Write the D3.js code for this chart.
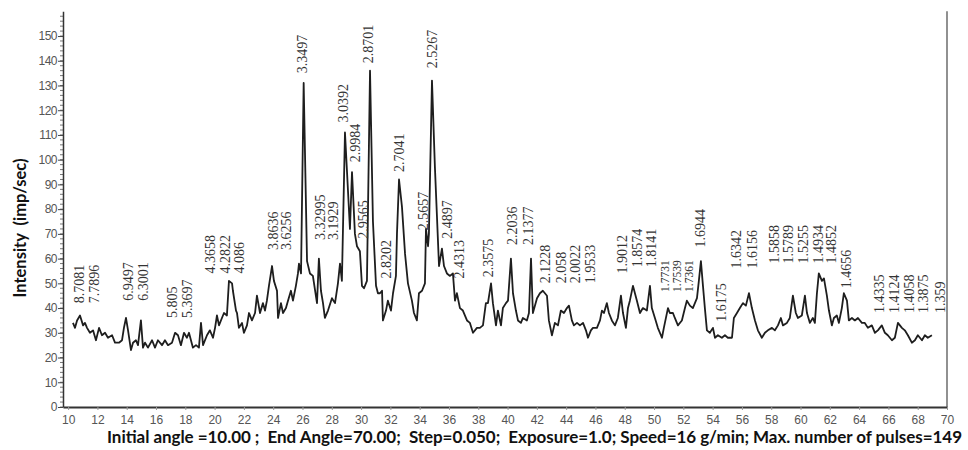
<!DOCTYPE html>
<html>
<head>
<meta charset="utf-8">
<script src="https://cdn.jsdelivr.net/npm/d3@7"></script>
<style>
    body { margin: 0; background: #fff; }
    #chart { width: 968px; height: 450px; }
</style>
</head>
<body>
<div id="chart"></div>
<script>
// 2-theta positions and counts
var angles = [
    10.33, 10.47, 10.61, 10.81, 11.02, 11.15, 11.29, 11.49, 11.70, 11.90,
    12.11, 12.31, 12.52, 12.72, 13.00, 13.20, 13.47, 13.68, 13.81, 13.95,
    14.09, 14.29, 14.43, 14.63, 14.77, 14.97, 15.11, 15.25, 15.45, 15.73,
    15.93, 16.13, 16.41, 16.61, 16.82, 17.09, 17.30, 17.50, 17.70, 17.91,
    18.11, 18.25, 18.52, 18.73, 18.93, 19.07, 19.21, 19.48, 19.68, 19.89,
    20.03, 20.16, 20.30, 20.50, 20.64, 20.84, 20.98, 21.19, 21.25, 21.46,
    21.53, 21.66, 21.87, 22.00, 22.21, 22.35, 22.55, 22.76, 22.89, 23.10,
    23.30, 23.44, 23.57, 23.71, 23.92, 24.05, 24.26, 24.33, 24.53, 24.67,
    24.87, 25.01, 25.21, 25.35, 25.55, 25.69, 25.76, 25.90, 26.08, 26.31,
    26.51, 26.71, 26.99, 27.12, 27.26, 27.40, 27.53, 27.74, 28.01, 28.22,
    28.42, 28.56, 28.69, 28.90, 29.04, 29.24, 29.38, 29.58, 29.72, 29.92,
    30.06, 30.20, 30.40, 30.61, 30.81, 31.02, 31.15, 31.29, 31.43, 31.49,
    31.70, 31.83, 32.04, 32.18, 32.38, 32.45, 32.59, 32.79, 33.00, 33.20,
    33.47, 33.61, 33.81, 33.95, 34.16, 34.36, 34.43, 34.57, 34.63, 34.84,
    35.04, 35.18, 35.32, 35.52, 35.66, 35.86, 36.07, 36.27, 36.41, 36.54,
    36.75, 36.95, 37.23, 37.43, 37.64, 37.91, 38.11, 38.32, 38.52, 38.66,
    38.87, 39.00, 39.21, 39.34, 39.55, 39.68, 39.89, 40.03, 40.23, 40.37,
    40.57, 40.71, 40.91, 41.05, 41.32, 41.46, 41.60, 41.73, 42.01, 42.21,
    42.41, 42.69, 42.82, 43.03, 43.23, 43.44, 43.64, 43.85, 44.05, 44.19,
    44.39, 44.53, 44.74, 44.94, 45.15, 45.35, 45.49, 45.69, 45.83, 46.10,
    46.31, 46.44, 46.58, 46.78, 46.92, 47.12, 47.33, 47.53, 47.74, 47.88,
    48.08, 48.22, 48.35, 48.56, 48.83, 49.04, 49.24, 49.51, 49.72, 49.85,
    50.06, 50.26, 50.54, 50.67, 50.95, 51.08, 51.29, 51.42, 51.63, 51.90,
    52.11, 52.24, 52.45, 52.65, 52.93, 53.06, 53.20, 53.34, 53.47, 53.61,
    53.81, 54.02, 54.16, 54.36, 54.63, 54.84, 55.04, 55.32, 55.45, 55.66,
    55.86, 56.07, 56.27, 56.48, 56.68, 56.89, 57.09, 57.36, 57.57, 57.77,
    58.05, 58.25, 58.46, 58.66, 58.80, 59.07, 59.27, 59.48, 59.68, 59.82,
    60.09, 60.30, 60.44, 60.64, 60.84, 60.98, 61.12, 61.25, 61.46, 61.60,
    61.80, 61.94, 62.14, 62.28, 62.48, 62.62, 62.82, 62.96, 63.17, 63.30,
    63.51, 63.71, 63.92, 64.19, 64.39, 64.60, 64.87, 65.08, 65.28, 65.55,
    65.76, 65.96, 66.24, 66.44, 66.65, 66.92, 67.12, 67.33, 67.60, 67.81,
    68.01, 68.29, 68.49, 68.69, 68.97
]

var counts = [
    34, 32, 35, 37, 33, 34, 32, 30, 31, 27,
    32, 29, 30, 28, 29, 26, 26, 27, 32, 36,
    31, 23, 26, 27, 25, 35, 24, 26, 24, 27,
    24, 27, 25, 27, 25, 26, 30, 29, 25, 30,
    28, 30, 24, 25, 24, 34, 25, 29, 31, 28,
    32, 37, 33, 36, 38, 37, 51, 50, 47, 39,
    38, 32, 34, 30, 33, 38, 35, 38, 45, 38,
    42, 39, 43, 49, 57, 51, 47, 36, 42, 38,
    40, 43, 47, 43, 49, 54, 58, 54, 131, 59,
    54, 53, 42, 60, 47, 42, 36, 39, 44, 42,
    50, 58, 51, 111, 95, 72, 95, 70, 65, 63,
    49, 48, 51, 136, 75, 49, 46, 46, 47, 35,
    39, 43, 39, 46, 53, 70, 92, 81, 62, 50,
    43, 38, 35, 46, 47, 50, 72, 65, 70, 132,
    97, 77, 57, 64, 57, 54, 53, 54, 43, 46,
    40, 39, 35, 34, 30, 32, 32, 33, 42, 42,
    50, 42, 33, 39, 33, 40, 42, 43, 60, 46,
    39, 35, 34, 36, 35, 38, 60, 38, 44, 46,
    47, 45, 35, 29, 34, 33, 39, 38, 40, 41,
    35, 33, 34, 33, 34, 31, 28, 31, 32, 32,
    35, 39, 38, 42, 38, 35, 33, 36, 45, 38,
    32, 40, 43, 49, 43, 38, 40, 39, 49, 40,
    36, 32, 28, 32, 40, 38, 38, 36, 33, 35,
    40, 43, 41, 40, 44, 51, 59, 49, 40, 31,
    30, 32, 28, 29, 28, 29, 28, 28, 36, 38,
    40, 42, 41, 46, 40, 35, 31, 28, 30, 31,
    32, 31, 33, 36, 33, 34, 36, 45, 38, 36,
    37, 45, 38, 34, 36, 34, 46, 54, 51, 52,
    45, 39, 33, 36, 37, 34, 40, 46, 43, 35,
    36, 35, 36, 34, 34, 32, 33, 30, 31, 33,
    30, 29, 27, 28, 34, 32, 31, 29, 26, 27,
    29, 27, 29, 28, 29
]

// d-spacing annotations: text, 2-theta, intensity where the label starts
var peakLabels = [
    "8.7081", "7.7896", "6.9497", "6.3001", "5.805", "5.3697", "4.3658", "4.2822", "4.086",
    "3.8636", "3.6256", "3.3497", "3.32995", "3.1929", "3.0392", "2.9984", "2.9565", "2.8701",
    "2.8202", "2.7041", "2.5657", "2.5267", "2.4897", "2.4313", "2.3575", "2.2036", "2.1377",
    "2.1228", "2.058", "2.0022", "1.9533", "1.9012", "1.8574", "1.8141", "1.7731", "1.7539",
    "1.7361", "1.6944", "1.6175", "1.6342", "1.6156", "1.5858", "1.5789", "1.5255", "1.4934",
    "1.4852", "1.4656", "1.4335", "1.4124", "1.4058", "1.3875", "1.359"
]
var peakAngles = [
    10.74, 11.77, 14.09, 15.11, 17.09, 18.11, 19.68, 20.71, 21.66,
    23.98, 24.87, 25.96, 27.19, 28.08, 28.76, 29.58, 30.13, 30.47,
    31.70, 32.59, 34.22, 34.84, 35.86, 36.68, 38.66, 40.30, 41.39,
    42.55, 43.64, 44.60, 45.62, 47.81, 48.83, 49.79, 50.74, 51.56,
    52.38, 53.13, 54.57, 55.59, 56.68, 58.18, 59.14, 60.16, 61.19,
    62.07, 63.10, 65.35, 66.37, 67.40, 68.35, 69.51
]
var peakLevels = [
    42, 42, 43, 43, 36, 36, 54, 54, 54,
    63.5, 63.5, 135, 67.5, 67.5, 115, 99, 68, 139,
    52, 95, 71.5, 137, 68, 52, 52.5, 65.5, 65.5,
    50, 50, 50, 50, 54, 56.5, 56.5, 46.5, 46.5,
    46.5, 64.5, 34.5, 56, 56, 58, 58, 58, 58,
    58, 48, 38, 38, 38, 38, 38
]
var condensedLabels = ["1.7731", "1.7539", "1.7361"]

var yTicks = d3.range(0, 151, 10)
var xTicks = d3.range(10, 71, 2)

var caption = "Initial angle =10.00 ;  End Angle=70.00;  Step=0.050;  Exposure=1.0; Speed=16 g/min; Max. number of pulses=149"
var yTitle = "Intensity  (imp/sec)"

function draw() {
    var width = 968, height = 450

    var svg = d3.select("#chart")
        .append("svg")
        .attr("width", width)
        .attr("height", height)

    var x = d3.scaleLinear()
        .domain([9.65, 70])
        .range([63, 947])
    var y = d3.scaleLinear()
        .domain([0, 160])
        .range([407, 11.3])

    // minor ticks on the intensity axis
    svg.append("g")
        .selectAll("line")
        .data(d3.range(0, 160, 2))
        .enter()
        .append("line")
        .attr("x1", x.range()[0] - 3)
        .attr("x2", x.range()[0])
        .attr("y1", (d) => {return y(d)})
        .attr("y2", (d) => {return y(d)})
        .attr("stroke", "#555")
        .attr("stroke-width", 0.8)

    var yAxis = svg.append("g")
        .attr("transform", "translate(" + x.range()[0] + ",0)")
        .call(d3.axisLeft(y).tickValues(yTicks).tickSize(5).tickSizeOuter(0).tickPadding(1))
    yAxis.select(".domain").attr("stroke", "#333").attr("stroke-width", 1.5)
    yAxis.selectAll(".tick line").attr("stroke", "#444")
    yAxis.selectAll("text")
        .attr("fill", "#555")
        .style("font-family", "Liberation Sans, Arial, sans-serif")
        .style("font-size", "12px")
        .style("letter-spacing", "-0.5px")

    var xAxis = svg.append("g")
        .attr("transform", "translate(0," + y(0) + ")")
        .call(d3.axisBottom(x).tickValues(xTicks).tickSize(3).tickSizeOuter(0).tickPadding(5))
    xAxis.select(".domain").attr("stroke", "#333").attr("stroke-width", 2.2)
    xAxis.selectAll(".tick line").attr("stroke", "#999")
    xAxis.selectAll("text")
        .attr("fill", "#555")
        .style("font-family", "Liberation Sans, Arial, sans-serif")
        .style("font-size", "12px")

    svg.append("line")
        .attr("x1", x(70))
        .attr("x2", x(70))
        .attr("y1", y(0))
        .attr("y2", y(160))
        .attr("stroke", "#555")
        .attr("stroke-width", 1.3)

    var points = angles.map((a, i) => {return [a, counts[i]]})
    var line = d3.line()
        .x((d) => {return x(d[0])})
        .y((d) => {return y(d[1])})

    svg.append("path")
        .datum(points)
        .attr("d", line)
        .attr("fill", "none")
        .attr("stroke", "#1e1e1e")
        .attr("stroke-width", 1.8)
        .attr("stroke-linejoin", "round")

    svg.append("g")
        .selectAll("text")
        .data(peakLabels)
        .enter()
        .append("text")
        .attr("transform", (d, i) => {
            return "translate(" + x(peakAngles[i]) + "," + y(peakLevels[i]) + ") rotate(-90)"
        })
        .attr("dy", "0.35em")
        .attr("fill", "#333")
        .style("font-family", "Liberation Serif, Times New Roman, serif")
        .style("font-size", (d) => {return condensedLabels.indexOf(d) === -1 ? "14px" : "11.5px"})
        .text((d) => {return d})

    svg.append("text")
        .attr("transform", "translate(26,228) rotate(-90)")
        .attr("text-anchor", "middle")
        .attr("fill", "#111")
        .style("font-family", "Lato, Open Sans, sans-serif")
        .style("font-weight", "bold")
        .style("font-size", "16.5px")
        .style("white-space", "pre")
        .text(yTitle)

    svg.append("text")
        .attr("x", 107)
        .attr("y", 443)
        .attr("textLength", 855)
        .attr("fill", "#111")
        .style("font-family", "Lato, Open Sans, sans-serif")
        .style("font-weight", "bold")
        .style("font-size", "17px")
        .style("white-space", "pre")
        .text(caption)
}

draw()
</script>
</body>
</html>
